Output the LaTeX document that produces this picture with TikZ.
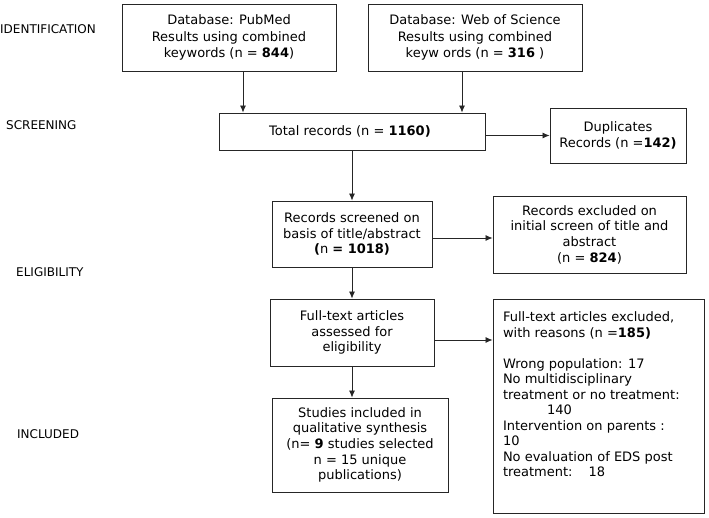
\documentclass[tikz,border=0pt]{standalone}
\usepackage{fontspec}
\setmainfont{DejaVu Sans}
\usepackage{tikz}
\usetikzlibrary{arrows.meta, positioning, calc}

\begin{document}
\begin{tikzpicture}[
    x=1pt, y=-1pt,
    block/.style={
        rectangle,
        draw=black!85,
        line width=0.9pt,
        inner sep=0pt,
        align=center,
        font={\fontsize{13}{15.7}\selectfont}
    },
    phase/.style={
        anchor=west,
        inner sep=0pt,
        font={\fontsize{12}{14}\selectfont}
    },
    line/.style={
        draw=black!85,
        line width=0.8pt,
        -{Latex[length=7pt, width=6pt]}
    }
]
    \useasboundingbox (0,0) rectangle (709,518);

    \node [phase] (ident) at (0,29) {IDENTIFICATION};
    \node [phase] (screen) at (6,125) {SCREENING};
    \node [phase] (elig) at (16,272) {ELIGIBILITY};
    \node [phase] (incl) at (17,434) {INCLUDED};

    \node [block, minimum width=214pt, minimum height=67pt,
        font={\fontsize{13}{16.7}\selectfont}] (pubmed) at (229,37.5) {
        Database: PubMed\\
        Results using combined\\
        keywords (n = \textbf{844})
    };

    \node [block, minimum width=214pt, minimum height=67pt,
        font={\fontsize{13}{16.7}\selectfont}] (wos) at (475,37.5) {
        Database: Web of Science\\
        Results using combined\\
        keyw ords (n = \textbf{316} )
    };

    \node [block, minimum width=266pt, minimum height=37pt] (total) at (352,131.5) {
        Total records (n = \textbf{1160)}
    };

    \node [block, minimum width=136pt, minimum height=55pt] (dup) at (618,135.5) {
        Duplicates\\
        Records (n =\textbf{142)}
    };

    \node [block, minimum width=160pt, minimum height=66pt] (screened) at (352,234) {
        Records screened on\\
        basis of title/abstract\\
        \textbf{(}n \textbf{= 1018)}
    };

    \node [block, minimum width=193pt, minimum height=77pt] (recexcl) at (589.5,234.5) {
        Records excluded on\\
        initial screen of title and\\
        abstract\\
        (n = \textbf{824})
    };

    \node [block, minimum width=164pt, minimum height=67pt] (fulltext) at (352,332.5) {
        Full-text articles\\
        assessed for\\
        eligibility
    };

    \node [block, minimum width=176pt, minimum height=94pt] (studies) at (360,445) {
        Studies included in\\
        qualitative synthesis\\
        (n= \textbf{9} studies selected\\
        n = 15 unique\\
        publications)
    };

    \node [block, align=left, inner xsep=10pt, inner ysep=0pt] (reasons) at (598.5,406) {%
        \begin{minipage}[t][214pt][t]{191pt}
        \vspace*{13pt}
        \fontsize{13}{15.5}\selectfont
        Full-text articles excluded,\\
        with reasons (n =\textbf{185)}\\[15.5pt]
        Wrong population: 17\\
        No multidisciplinary\\
        treatment or no treatment:\\
        \hspace*{44pt}140\\
        Intervention on parents :\\
        10\\
        No evaluation of EDS post\\
        treatment:\hspace*{12pt} 18
        \end{minipage}%
    };

    \draw [line] ([xshift=14pt]pubmed.south) -- ([xshift=14pt]pubmed.south |- total.north);
    \draw [line] ([xshift=-13pt]wos.south) -- ([xshift=-13pt]wos.south |- total.north);
    \draw [line] (dup.west -| total.east) -- (dup.west);
    \draw [line] (total.south) -- (screened.north);
    \draw [line] ([yshift=-4pt]screened.east) -- ([yshift=-4pt]screened.east -| recexcl.west);
    \draw [line] (screened.south) -- (fulltext.north);
    \draw [line] ([yshift=-7.5pt]fulltext.east) -- ([yshift=-7.5pt]fulltext.east -| reasons.west);
    \draw [line] (fulltext.south) -- (fulltext.south |- studies.north);

\end{tikzpicture}
\end{document}
